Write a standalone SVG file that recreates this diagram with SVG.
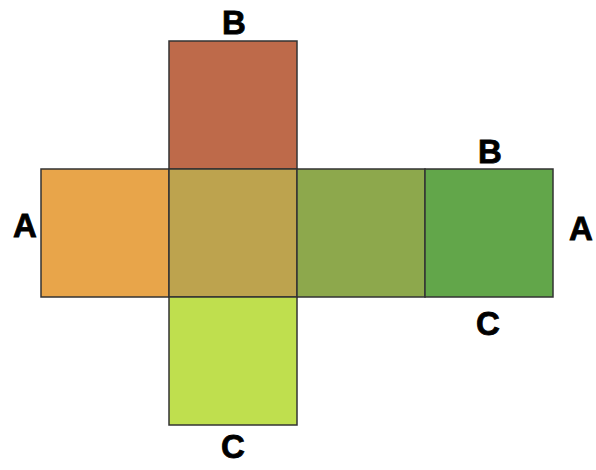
<svg xmlns="http://www.w3.org/2000/svg" width="596" height="470" viewBox="0 0 596 470">
  <style>
    .face { stroke: #333333; stroke-width: 1.5; }
    .lbl { font-family: "Liberation Sans", Arial, sans-serif; font-weight: bold; font-size: 33px; fill: #000000; stroke: #000000; stroke-width: 0.8; text-anchor: middle; }
  </style>
  <rect width="596" height="470" fill="#ffffff"/>
  <!-- cube net faces -->
  <g id="face-top"><rect class="face" x="169" y="41" width="128" height="128" fill="#BE6A4A"/></g>
  <g id="face-left"><rect class="face" x="41" y="169" width="128" height="128" fill="#E8A54A"/></g>
  <g id="face-front"><rect class="face" x="169" y="169" width="128" height="128" fill="#BDA34E"/></g>
  <g id="face-right"><rect class="face" x="297" y="169" width="128" height="128" fill="#8DA84C"/></g>
  <g id="face-back"><rect class="face" x="425" y="169" width="128" height="128" fill="#62A64A"/></g>
  <g id="face-bottom"><rect class="face" x="169" y="297" width="128" height="128" fill="#BFDF4E"/></g>
  <g id="connectors"></g>
  <!-- edge labels -->
  <g id="labels">
    <text class="lbl" x="234" y="34">B</text>
    <text class="lbl" x="25" y="237">A</text>
    <text class="lbl" x="490" y="163">B</text>
    <text class="lbl" x="581" y="240">A</text>
    <text class="lbl" x="488" y="335">C</text>
    <text class="lbl" x="233" y="458">C</text>
  </g>
</svg>
